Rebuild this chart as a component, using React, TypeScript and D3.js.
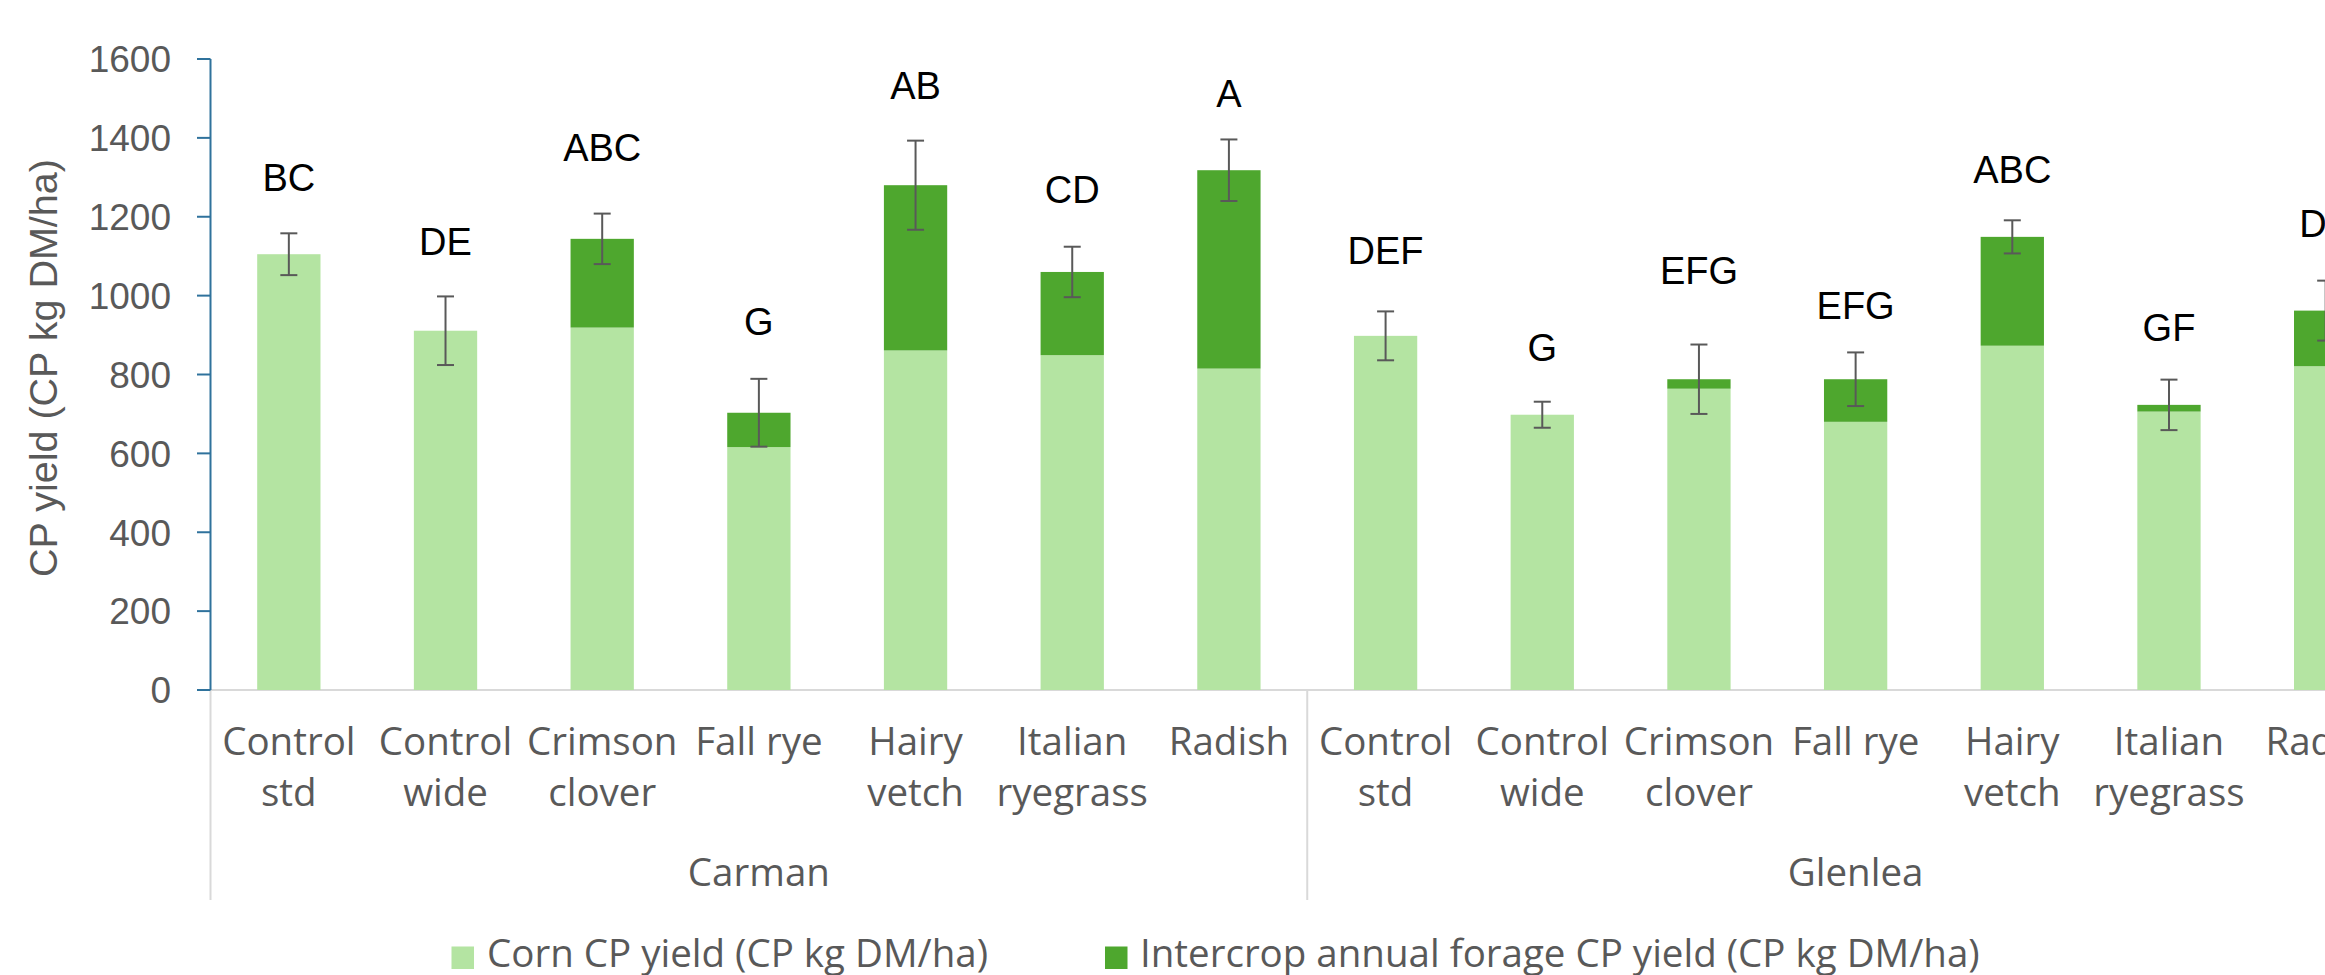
import React from 'react';
import * as d3 from 'd3';

// Sites and treatments along the category axis
const sites = ['Carman', 'Glenlea'];
const treatments = [
  'Control std',
  'Control wide',
  'Crimson clover',
  'Fall rye',
  'Hairy vetch',
  'Italian ryegrass',
  'Radish',
];
const treatmentLines = [
  ['Control', 'std'],
  ['Control', 'wide'],
  ['Crimson', 'clover'],
  ['Fall rye'],
  ['Hairy', 'vetch'],
  ['Italian', 'ryegrass'],
  ['Radish'],
];

// Corn CP yield (CP kg DM/ha)
const cornCarman = [1105, 911, 919, 616, 861, 849, 815];
const cornGlenlea = [898, 698, 764, 680, 873, 706, 821];

// Intercrop annual forage CP yield (CP kg DM/ha)
const intercropCarman = [0, 0, 225, 87, 419, 211, 503];
const intercropGlenlea = [0, 0, 24, 108, 276, 17, 141];

// Standard error of the total yield
const errCarman = [53, 87, 64, 86, 113, 64, 78];
const errGlenlea = [62, 33, 88, 68, 42, 64, 76];

// Mean separation letters and the height (in yield units) where each sits
const lettersCarman = ['BC', 'DE', 'ABC', 'G', 'AB', 'CD', 'A'];
const lettersGlenlea = ['DEF', 'G', 'EFG', 'EFG', 'ABC', 'GF', 'DE'];
const letterPosCarman = [1301, 1138, 1376, 934, 1533, 1270, 1513];
const letterPosGlenlea = [1114, 870, 1064, 975, 1320, 920, 1184];

const yTicks = [0, 200, 400, 600, 800, 1000, 1200, 1400, 1600];

const seriesNames = [
  'Corn CP yield (CP kg DM/ha)',
  'Intercrop annual forage CP yield (CP kg DM/ha)',
];

const COLOR_CORN = '#b4e4a2';
const COLOR_INTER = '#4ea72e';
const AXIS_BLUE = '#2f729c';
const GRID_GRAY = '#d9d9d9';
const TEXT_GRAY = '#595959';
const ARIAL = "'Liberation Sans', Arial, sans-serif";
const SANS = "'Open Sans', 'Noto Sans', sans-serif";

const W = 2325;
const H = 975;

type Row = {
  site: string;
  treatment: string;
  lines: string[];
  corn: number;
  inter: number;
  err: number;
  letter: string;
  letterPos: number;
  key: string;
};

const rows: Row[] = [];
sites.forEach((site, s) => {
  const corn = s === 0 ? cornCarman : cornGlenlea;
  const inter = s === 0 ? intercropCarman : intercropGlenlea;
  const err = s === 0 ? errCarman : errGlenlea;
  const letters = s === 0 ? lettersCarman : lettersGlenlea;
  const lpos = s === 0 ? letterPosCarman : letterPosGlenlea;
  treatments.forEach((t, i) => {
    rows.push({
      site,
      treatment: t,
      lines: treatmentLines[i],
      corn: corn[i],
      inter: inter[i],
      err: err[i],
      letter: letters[i],
      letterPos: lpos[i],
      key: `${site}|${t}`,
    });
  });
});

export default function App() {
  const plotLeft = 210.5;
  const plotRight = 2404;
  const plotBottom = 690;
  const plotTop = 59;

  const x = d3
    .scaleBand<string>()
    .domain(rows.map((r) => r.key))
    .range([plotLeft, plotRight])
    .padding(0);
  const y = d3.scaleLinear().domain([0, 1600]).range([plotBottom, plotTop]);

  const step = x.bandwidth();
  const barW = step * 0.404;
  const capW = 17;

  const stack = d3
    .stack<Row>()
    .keys(['corn', 'inter'])
    .value((d, k) => (d as any)[k]);
  const stacked = stack(rows);
  const colors = [COLOR_CORN, COLOR_INTER];

  const groupBounds = sites.map((site) => {
    const keys = rows.filter((r) => r.site === site).map((r) => r.key);
    const x0 = x(keys[0])!;
    const x1 = x(keys[keys.length - 1])! + step;
    return { site, x0, x1 };
  });

  const legendItems = [
    { name: seriesNames[0], color: COLOR_CORN, sx: 451.5, tx: 487 },
    { name: seriesNames[1], color: COLOR_INTER, sx: 1105, tx: 1140 },
  ];

  return (
    <svg
      width={W}
      height={H}
      viewBox={`0 0 ${W} ${H}`}
      style={{ position: 'absolute', left: 0, top: 0, display: 'block', background: '#fff' }}
    >
      <rect x={0} y={0} width={W} height={H} fill="#ffffff" />

      {/* category axis baseline */}
      <line x1={plotLeft} x2={W} y1={plotBottom} y2={plotBottom} stroke={GRID_GRAY} strokeWidth={2} />

      {/* group separators under the axis */}
      {[groupBounds[0].x0, ...groupBounds.map((g) => g.x1)].map((gx, i) => (
        <line key={`sep${i}`} x1={gx} x2={gx} y1={plotBottom} y2={900} stroke={GRID_GRAY} strokeWidth={2} />
      ))}

      {/* stacked bars */}
      {stacked.map((layer, li) => (
        <g key={`layer${li}`} fill={colors[li]}>
          {layer.map((seg, i) => {
            const r = rows[i];
            const h = y(seg[0]) - y(seg[1]);
            if (h <= 0) return null;
            const cx = x(r.key)! + step / 2;
            return <rect key={r.key} x={cx - barW / 2} y={y(seg[1])} width={barW} height={h} />;
          })}
        </g>
      ))}

      {/* error bars */}
      <g stroke={TEXT_GRAY} strokeWidth={2} fill="none">
        {rows.map((r) => {
          const cx = x(r.key)! + step / 2;
          const total = r.corn + r.inter;
          const hi = y(total + r.err);
          const lo = y(total - r.err);
          return (
            <g key={`e${r.key}`}>
              <line x1={cx} x2={cx} y1={hi} y2={lo} />
              <line x1={cx - capW / 2} x2={cx + capW / 2} y1={hi} y2={hi} />
              <line x1={cx - capW / 2} x2={cx + capW / 2} y1={lo} y2={lo} />
            </g>
          );
        })}
      </g>

      {/* mean separation letters */}
      <g fontFamily={ARIAL} fontSize={38} fill="#000" textAnchor="middle">
        {rows.map((r) => (
          <text key={`l${r.key}`} x={x(r.key)! + step / 2} y={y(r.letterPos)} dy="0.36em">
            {r.letter}
          </text>
        ))}
      </g>

      {/* value axis */}
      <line x1={plotLeft} x2={plotLeft} y1={y(0)} y2={y(1600)} stroke={AXIS_BLUE} strokeWidth={2} />
      {yTicks.map((t) => (
        <g key={`t${t}`}>
          <line x1={plotLeft - 13.5} x2={plotLeft} y1={y(t)} y2={y(t)} stroke={AXIS_BLUE} strokeWidth={2} />
          <text
            x={171}
            y={y(t)}
            dy="0.36em"
            textAnchor="end"
            fontFamily={ARIAL}
            fontSize={37}
            fill={TEXT_GRAY}
          >
            {t}
          </text>
        </g>
      ))}

      {/* value axis title */}
      <text
        transform={`translate(57, 368) rotate(-90)`}
        textAnchor="middle"
        fontFamily={ARIAL}
        fontSize={39.5}
        fill={TEXT_GRAY}
      >
        CP yield (CP kg DM/ha)
      </text>

      {/* treatment labels */}
      <g fontFamily={SANS} fontSize={38.5} fill={TEXT_GRAY} textAnchor="middle">
        {rows.map((r) => {
          const cx = x(r.key)! + step / 2;
          return (
            <text key={`c${r.key}`} x={cx} y={755}>
              {r.lines.map((ln, j) => (
                <tspan key={j} x={cx} y={755 + j * 51}>
                  {ln}
                </tspan>
              ))}
            </text>
          );
        })}
      </g>

      {/* site labels */}
      <g fontFamily={SANS} fontSize={38.5} fill={TEXT_GRAY} textAnchor="middle">
        {groupBounds.map((g) => (
          <text key={`g${g.site}`} x={(g.x0 + g.x1) / 2} y={886}>
            {g.site}
          </text>
        ))}
      </g>

      {/* legend */}
      <g fontFamily={SANS} fontSize={38.5} fill={TEXT_GRAY}>
        {legendItems.map((it) => (
          <g key={it.name}>
            <rect x={it.sx} y={946.5} width={22.5} height={22.5} fill={it.color} />
            <text x={it.tx} y={967}>
              {it.name}
            </text>
          </g>
        ))}
      </g>
    </svg>
  );
}
